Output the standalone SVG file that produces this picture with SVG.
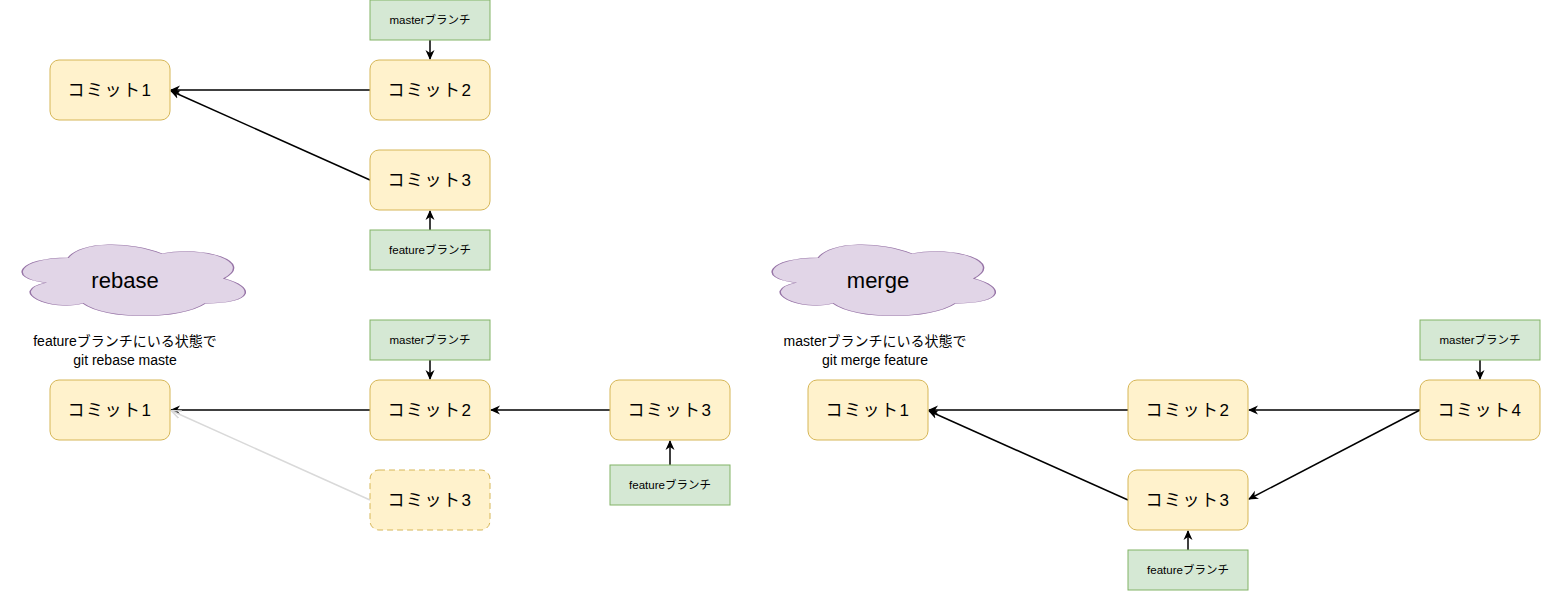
<svg xmlns="http://www.w3.org/2000/svg" width="1541" height="591" viewBox="0 0 1541 591">
<style>
.commit{fill:#fff2cc;stroke:#d6b656;stroke-width:1}
.dashed{stroke-dasharray:6 4}
.branch{fill:#d5e8d4;stroke:#82b366;stroke-width:1}
.cloud{fill:#e1d5e7;stroke:#9673a6;stroke-width:1}
.ct{font-family:"Liberation Sans","Noto Sans CJK JP",sans-serif;font-size:17px;fill:#000;text-anchor:middle;dominant-baseline:central;letter-spacing:1.5px}
.bt{font-family:"Liberation Sans","Noto Sans CJK JP",sans-serif;font-size:11.5px;fill:#000;text-anchor:middle;dominant-baseline:central}
.lt{font-family:"Liberation Sans","Noto Sans CJK JP",sans-serif;font-size:14px;fill:#000;text-anchor:middle;dominant-baseline:central}
.cl{font-family:"Liberation Sans","Noto Sans CJK JP",sans-serif;font-size:22px;fill:#000;text-anchor:middle;dominant-baseline:central}
.edge{stroke:#000;stroke-width:1.5;fill:none;marker-end:url(#arr)}
.ghost{stroke:#d9d9d9;stroke-width:1.5;fill:none;marker-end:url(#oarr)}
</style>
<defs>
<marker id="arr" viewBox="0 0 10 10" refX="9" refY="5" markerWidth="10" markerHeight="10" markerUnits="userSpaceOnUse" orient="auto">
<path d="M0,0.5 L10,5 L0,9.5 L3,5 Z" fill="#000"/>
</marker>
<marker id="oarr" viewBox="0 0 10 10" refX="9" refY="5" markerWidth="10" markerHeight="10" markerUnits="userSpaceOnUse" orient="auto">
<path d="M0,1 L10,5 L0,9" fill="none" stroke="#d9d9d9" stroke-width="1.5"/>
</marker>
<path id="cloudshape" d="M 0.25 0.25 C 0.05 0.25 0 0.5 0.16 0.55 C 0 0.66 0.18 0.9 0.31 0.8 C 0.4 1 0.7 1 0.8 0.8 C 1 0.8 1 0.6 0.875 0.5 C 1 0.3 0.8 0.1 0.625 0.2 C 0.5 0.05 0.3 0.05 0.25 0.25 Z"/>
</defs>

<g id="connectors">
<line class="edge" x1="430" y1="40" x2="430" y2="59"/>
<line class="edge" x1="370" y1="90" x2="171" y2="90"/>
<line class="edge" x1="370" y1="180" x2="171" y2="91"/>
<line class="edge" x1="430" y1="230" x2="430" y2="211"/>

<line class="edge" x1="430" y1="360" x2="430" y2="379"/>
<line class="edge" x1="370" y1="410" x2="171" y2="410"/>
<line class="ghost" x1="370" y1="500" x2="172" y2="411"/>
<line class="edge" x1="610" y1="410" x2="491" y2="410"/>
<line class="edge" x1="670" y1="465" x2="670" y2="441"/>

<line class="edge" x1="1480" y1="360" x2="1480" y2="379"/>
<line class="edge" x1="1420" y1="410" x2="1249" y2="410"/>
<line class="edge" x1="1420" y1="410" x2="1249" y2="499"/>
<line class="edge" x1="1128" y1="410" x2="929" y2="410"/>
<line class="edge" x1="1128" y1="500" x2="929" y2="411"/>
<line class="edge" x1="1188" y1="550" x2="1188" y2="531"/>
</g>

<g id="t-master"><rect class="branch" x="370" y="0" width="120" height="40"/><text class="bt" x="430" y="20">masterブランチ</text></g>
<g id="t-c1"><rect class="commit" x="50" y="60" width="120" height="60" rx="9"/><text class="ct" x="110" y="90">コミット1</text></g>
<g id="t-c2"><rect class="commit" x="370" y="60" width="120" height="60" rx="9"/><text class="ct" x="430" y="90">コミット2</text></g>
<g id="t-c3"><rect class="commit" x="370" y="150" width="120" height="60" rx="9"/><text class="ct" x="430" y="180">コミット3</text></g>
<g id="t-feature"><rect class="branch" x="370" y="230" width="120" height="40"/><text class="bt" x="430" y="250">featureブランチ</text></g>

<g id="r-cloud"><use href="#cloudshape" class="cloud" transform="translate(6,237) scale(249,83)" style="stroke-width:0.006"/><text class="cl" x="125" y="280">rebase</text></g>
<g id="r-label"><text class="lt" x="125" y="341">featureブランチにいる状態で</text><text class="lt" x="125" y="360">git rebase maste</text></g>
<g id="r-master"><rect class="branch" x="370" y="320" width="120" height="40"/><text class="bt" x="430" y="340">masterブランチ</text></g>
<g id="r-c1"><rect class="commit" x="50" y="380" width="120" height="60" rx="9"/><text class="ct" x="110" y="410">コミット1</text></g>
<g id="r-c2"><rect class="commit" x="370" y="380" width="120" height="60" rx="9"/><text class="ct" x="430" y="410">コミット2</text></g>
<g id="r-c3old"><rect class="commit dashed" x="370" y="470" width="120" height="60" rx="9"/><text class="ct" x="430" y="500">コミット3</text></g>
<g id="r-c3"><rect class="commit" x="610" y="380" width="120" height="60" rx="9"/><text class="ct" x="670" y="410">コミット3</text></g>
<g id="r-feature"><rect class="branch" x="610" y="465" width="120" height="40"/><text class="bt" x="670" y="485">featureブランチ</text></g>

<g id="m-cloud"><use href="#cloudshape" class="cloud" transform="translate(756,237) scale(249,83)" style="stroke-width:0.006"/><text class="cl" x="878" y="280">merge</text></g>
<g id="m-label"><text class="lt" x="875" y="341">masterブランチにいる状態で</text><text class="lt" x="875" y="360">git merge feature</text></g>
<g id="m-c1"><rect class="commit" x="808" y="380" width="120" height="60" rx="9"/><text class="ct" x="868" y="410">コミット1</text></g>
<g id="m-c2"><rect class="commit" x="1128" y="380" width="120" height="60" rx="9"/><text class="ct" x="1188" y="410">コミット2</text></g>
<g id="m-c3"><rect class="commit" x="1128" y="470" width="120" height="60" rx="9"/><text class="ct" x="1188" y="500">コミット3</text></g>
<g id="m-feature"><rect class="branch" x="1128" y="550" width="120" height="40"/><text class="bt" x="1188" y="570">featureブランチ</text></g>
<g id="m-master"><rect class="branch" x="1420" y="320" width="120" height="40"/><text class="bt" x="1480" y="340">masterブランチ</text></g>
<g id="m-c4"><rect class="commit" x="1420" y="380" width="120" height="60" rx="9"/><text class="ct" x="1480" y="410">コミット4</text></g>
</svg>
